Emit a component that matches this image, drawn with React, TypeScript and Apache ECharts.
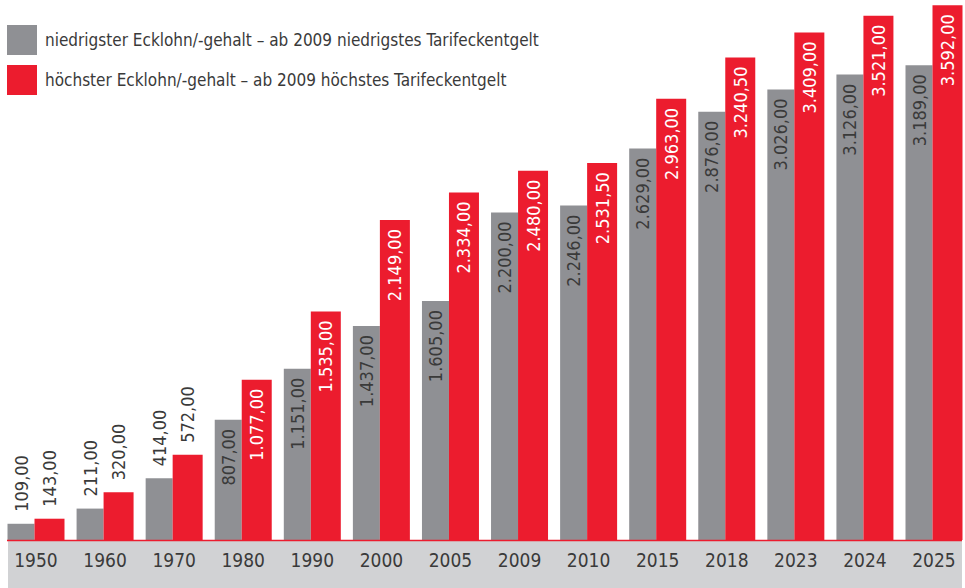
import React, { useEffect, useRef } from "react";
import * as echarts from "echarts";

const years = ["1950", "1960", "1970", "1980", "1990", "2000", "2005", "2009", "2010", "2015", "2018", "2023", "2024", "2025"];
const lowestPay = [109, 211, 414, 807, 1151, 1437, 1605, 2200, 2246, 2629, 2876, 3026, 3126, 3189];
const highestPay = [143, 320, 572, 1077, 1535, 2149, 2334, 2480, 2531.5, 2963, 3240.5, 3409, 3521, 3592];
const seriesNames = [
  "niedrigster Ecklohn/-gehalt – ab 2009 niedrigstes Tarifeckentgelt",
  "höchster Ecklohn/-gehalt – ab 2009 höchstes Tarifeckentgelt",
];

const GREY = "#8f9094";
const RED = "#ec1c2e";
const TEXT = "#3a3a3a";
const FONT = "'DejaVu Sans Condensed', 'Liberation Sans Narrow', 'Liberation Sans', sans-serif";
const INSIDE_MIN = 700;

const fmt = (v: number) => {
  const [i, d] = v.toFixed(2).split(".");
  return i.replace(/\B(?=(\d{3})+(?!\d))/g, ".") + "," + d;
};

const makeData = (values: number[], insideColor: string) =>
  values.map((v) => ({
    value: v,
    label:
      v >= INSIDE_MIN
        ? { position: "insideTop", align: "right", verticalAlign: "middle", distance: 9, color: insideColor }
        : { position: "top", align: "left", verticalAlign: "middle", distance: 12, color: TEXT },
  }));

export default function App() {
  const ref = useRef<HTMLDivElement>(null);
  useEffect(() => {
    if (!ref.current) return;
    const chart = echarts.init(ref.current, null, { renderer: "svg" });
    const labelBase = {
      show: true,
      rotate: 90,
      fontFamily: FONT,
      fontSize: 18,
      formatter: (p: any) => fmt(p.value),
    };
    chart.setOption({
      animation: false,
      backgroundColor: "#ffffff",
      textStyle: { fontFamily: FONT },
      legend: {
        orient: "vertical",
        left: 7,
        top: 25,
        padding: 0,
        itemGap: 10,
        itemWidth: 30,
        itemHeight: 30,
        icon: "rect",
        textStyle: { fontFamily: FONT, fontSize: 17, color: TEXT, padding: [0, 0, 0, 3] },
        data: seriesNames,
      },
      graphic: [
        {
          type: "rect",
          z: -10,
          shape: { x: 8, y: 541, width: 954, height: 47 },
          style: { fill: "#d1d2d4" },
        },
        {
          type: "line",
          z: 100,
          shape: { x1: 7, y1: 540.5, x2: 962, y2: 540.5 },
          style: { stroke: RED, lineWidth: 1.5 },
        },
      ],
      grid: { left: 36, right: 31, top: 4, bottom: 48, containLabel: false },
      xAxis: {
        type: "category",
        data: years,
        boundaryGap: false,
        axisLine: { show: false },
        axisTick: { show: false },
        axisLabel: { fontFamily: FONT, fontSize: 19, color: TEXT, margin: 10, interval: 0 },
      },
      yAxis: {
        type: "value",
        min: 0,
        max: 3600,
        show: false,
        splitLine: { show: false },
      },
      series: [
        {
          name: seriesNames[0],
          type: "bar",
          barWidth: 27,
          barGap: "0%",
          itemStyle: { color: GREY },
          label: labelBase,
          data: makeData(lowestPay, TEXT),
        },
        {
          name: seriesNames[1],
          type: "bar",
          barWidth: 30,
          barGap: "0%",
          itemStyle: { color: RED },
          label: labelBase,
          data: makeData(highestPay, "#ffffff"),
        },
      ],
    });
    return () => chart.dispose();
  }, []);
  return (
    <div
      ref={ref}
      style={{ position: "fixed", left: 0, top: 0, width: 965, height: 588 }}
    />
  );
}
